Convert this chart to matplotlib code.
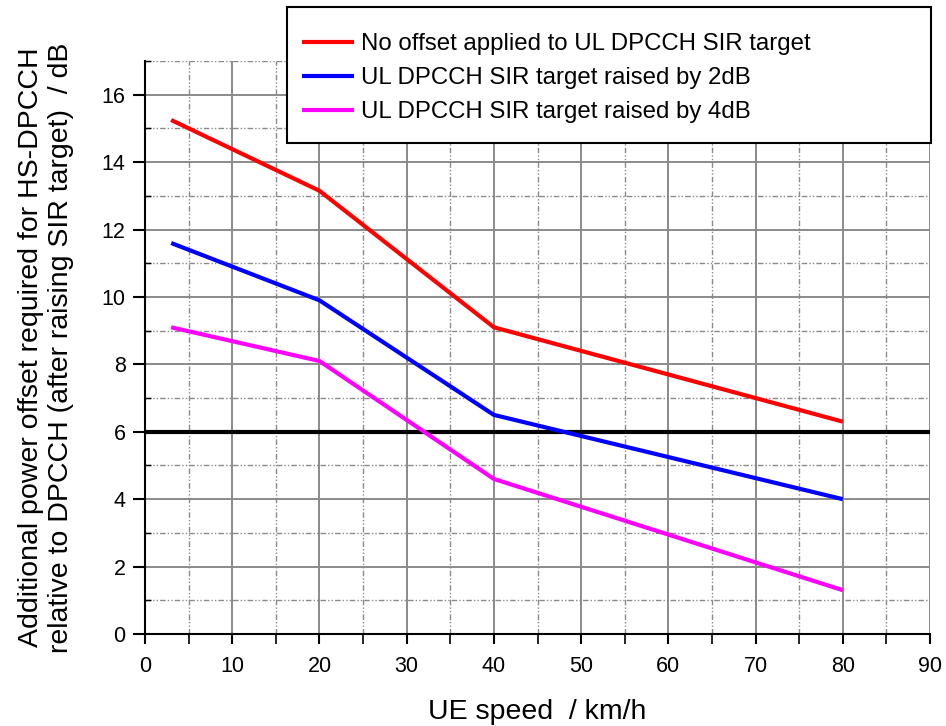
import matplotlib
matplotlib.use("Agg")
import matplotlib.pyplot as plt
from matplotlib.ticker import MultipleLocator
from matplotlib.patches import Rectangle

plt.rcParams['font.family'] = ['Liberation Sans', 'DejaVu Sans']

speed = [3, 20, 40, 80]
no_offset = [15.25, 13.15, 9.1, 6.3]
raised_2db = [11.6, 9.9, 6.5, 4.0]
raised_4db = [9.1, 8.1, 4.6, 1.3]
threshold = 6
labels = ["No offset applied to UL DPCCH SIR target",
          "UL DPCCH SIR target raised by 2dB",
          "UL DPCCH SIR target raised by 4dB"]
colors = ["#ff0000", "#0000ff", "#ff00ff"]

W, H = 946, 726
fig = plt.figure(figsize=(W/100, H/100), dpi=100)
ax = fig.add_axes([145/W, 1-634/H, (930-145)/W, (634-61)/H])

ax.set_xlim(0, 90)
ax.set_ylim(0, 17)
ax.xaxis.set_major_locator(MultipleLocator(10))
ax.xaxis.set_minor_locator(MultipleLocator(5))
ax.yaxis.set_major_locator(MultipleLocator(2))
ax.yaxis.set_minor_locator(MultipleLocator(1))

ax.grid(which='major', color='#8a8a8a', linewidth=1.4, linestyle='-')
ax.grid(which='minor', color='#8a8a8a', linewidth=1.0, linestyle=(0, (4, 1.5, 1, 1.5, 1, 1.5)))
ax.set_axisbelow(True)

for s in ['top', 'right']:
    ax.spines[s].set_visible(False)
for s in ['left', 'bottom']:
    ax.spines[s].set_linewidth(1.5)

ax.tick_params(axis='x', which='major', direction='out', length=7.5, width=1.5, labelsize=15.5, pad=8)
ax.tick_params(axis='x', which='minor', direction='out', length=7.5, width=1.2)
ax.tick_params(axis='y', which='major', direction='out', length=9, width=1.5, labelsize=15.5, pad=5)
ax.tick_params(axis='y', which='minor', direction='in', length=4, width=1.0)

ax.axhline(threshold, color='black', linewidth=3, zorder=3)
handles = []
for ys, c, lab in zip([no_offset, raised_2db, raised_4db], colors, labels):
    h, = ax.plot(speed, ys, color=c, linewidth=3, label=lab, zorder=4, solid_capstyle='butt')
    handles.append(h)

ax.set_xlabel("UE speed  / km/h", fontsize=20.5, labelpad=16)
ax.set_ylabel("Additional power offset required for HS-DPCCH\nrelative to DPCCH (after raising SIR target)  / dB",
              fontsize=20.5, labelpad=20, linespacing=1.2)

# legend frame (wider than its contents in the reference)
fig.patches.append(Rectangle((287/W, 1-143/H), (931-287)/W, (143-7)/H,
                             transform=fig.transFigure, facecolor='white',
                             edgecolor='black', linewidth=1.5, zorder=5))
leg = fig.legend(handles=handles, loc='upper left', bbox_to_anchor=(302/W, 1-33/H),
                 bbox_transform=fig.transFigure, fontsize=17.3, frameon=False,
                 handlelength=2.15, handletextpad=0.3,
                 labelspacing=0.5, borderpad=0, borderaxespad=0)
leg.set_zorder(6)

fig.savefig("out.png", dpi=100)
